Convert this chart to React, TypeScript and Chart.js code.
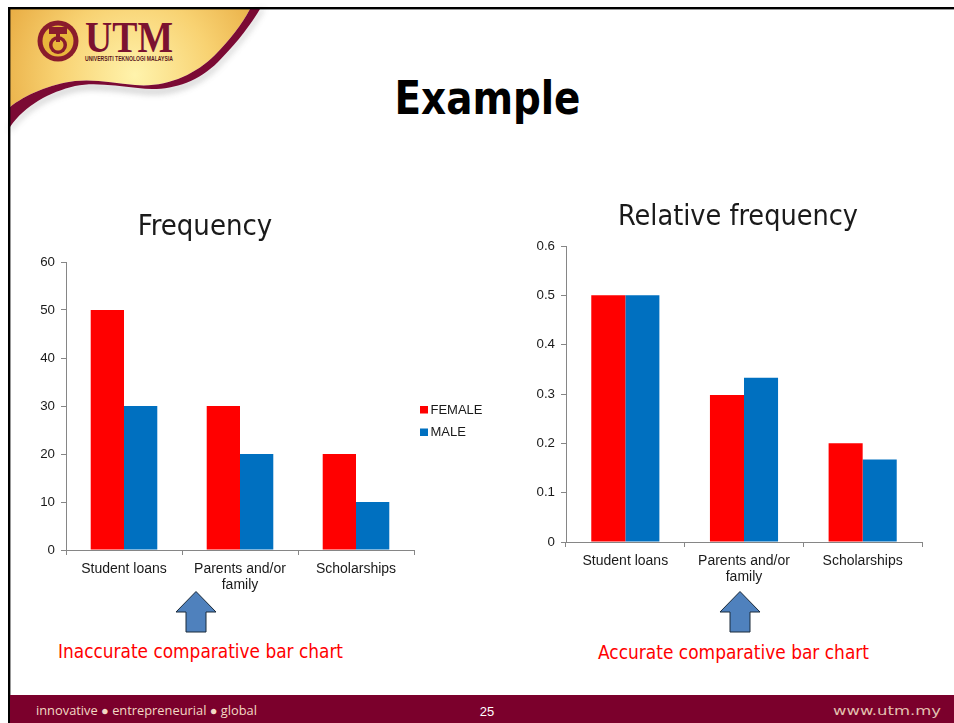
import React, { useEffect, useRef } from "react";
import { Chart, registerables } from "chart.js";

Chart.register(...registerables);

const categories = [["Student loans"], ["Parents and/or", "family"], ["Scholarships"]];
const seriesNames = ["FEMALE", "MALE"];
const freqFemale = [50, 30, 20];
const freqMale = [30, 20, 10];
const relFemale = [0.5, 0.298, 0.2];
const relMale = [0.5, 0.333, 0.167];
const RED = "#ff0000";
const BLUE = "#0070c0";
const AXIS = "#868686";
const TEXT = "#1a1a1a";
const LABEL_FONT = "'Liberation Sans', Arial, sans-serif";
const TITLE_FONT = "'DejaVu Sans Condensed', 'DejaVu Sans', sans-serif";

const seriesLegend = {
  id: "seriesLegend",
  beforeDraw(chart: any) {
    // the y scale box is narrow so the title centres as in the slide; let its labels draw past it
    chart.scales.y.left = 0;
  },
  afterDraw(chart: any, _args: any, o: any) {
    if (!o.show) return;
    const { ctx, chartArea } = chart;
    const midY = (chartArea.top + chartArea.bottom) / 2;
    ctx.save();
    ctx.font = `13px ${LABEL_FONT}`;
    ctx.textBaseline = "middle";
    chart.data.datasets.forEach((d: any, i: number) => {
      const y = midY + 3.5 + i * 22.5;
      ctx.fillStyle = d.backgroundColor;
      ctx.fillRect(chartArea.right + 6, y - 3.5, 8, 7.5);
      ctx.fillStyle = TEXT;
      ctx.fillText(d.label, chartArea.right + 16.5, y + 0.5);
    });
    ctx.restore();
  },
};

function makeConfig(opts: any) {
  return {
    type: "bar",
    plugins: [seriesLegend],
    data: {
      labels: categories,
      datasets: [
        { label: seriesNames[0], data: opts.a, backgroundColor: RED, borderWidth: 0 },
        { label: seriesNames[1], data: opts.b, backgroundColor: BLUE, borderWidth: 0 },
      ],
    },
    options: {
      responsive: false,
      animation: false,
      events: [],
      layout: { padding: opts.padding },
      datasets: { bar: { categoryPercentage: 0.574, barPercentage: 1 } },
      plugins: {
        tooltip: { enabled: false },
        legend: { display: false },
        seriesLegend: { show: opts.legend },
        title: {
          display: true,
          text: opts.title,
          color: TEXT,
          font: { family: TITLE_FONT, size: opts.titleSize, weight: "normal", lineHeight: 1 },
          padding: opts.titlePadding,
        },
      },
      scales: {
        x: {
          afterFit: (s: any) => { s.height = opts.xHeight; },
          border: { color: AXIS, display: true },
          grid: { display: true, drawOnChartArea: false, drawTicks: true, tickLength: 5, color: AXIS, offset: true },
          ticks: { color: TEXT, maxRotation: 0, minRotation: 0, autoSkip: false, padding: 6, font: { family: LABEL_FONT, size: 14, lineHeight: 1.15 } },
        },
        y: {
          min: 0,
          max: opts.max,
          afterFit: (s: any) => { s.width = opts.yWidth; },
          border: { color: AXIS, display: true },
          grid: { display: true, drawOnChartArea: false, drawTicks: true, tickLength: 5, color: AXIS },
          ticks: { color: TEXT, stepSize: opts.step, padding: 6, font: { family: LABEL_FONT, size: 13.3 } },
        },
      },
    },
  } as any;
}

function BarChart({ style, width, height, ...opts }: any) {
  const ref = useRef<HTMLCanvasElement>(null);
  useEffect(() => {
    const chart = new Chart(ref.current!, makeConfig(opts));
    return () => chart.destroy();
  }, []);
  return <canvas ref={ref} width={width} height={height} style={{ position: "absolute", display: "block", ...style }} />;
}

function Arrow({ cx }: { cx: number }) {
  const pts = [[cx, 591.5], [cx + 20, 612], [cx + 10, 612], [cx + 10, 632], [cx - 10, 632], [cx - 10, 612], [cx - 20, 612]]
    .map((p) => p.join(",")).join(" ");
  return <polygon points={pts} fill="#4f81bd" stroke="#1b2a3a" strokeWidth={1} />;
}

function Decor() {
  return (
    <svg width={954} height={723} style={{ position: "absolute", left: 0, top: 0 }}>
      <defs>
        <radialGradient id="gold" gradientUnits="userSpaceOnUse" cx={135} cy={75} r={140}>
          <stop offset="0" stopColor="#fff3ac" />
          <stop offset="0.55" stopColor="#f8d272" />
          <stop offset="1" stopColor="#e9ae45" />
        </radialGradient>
        <filter id="soft" x="-10%" y="-10%" width="120%" height="130%"><feGaussianBlur stdDeviation="3" /></filter>
      </defs>
      <path d="M264 9 C252 30 237 48 220 65 C197 90 165 97 138 93 C115 91 95 87 75 91 C50 97 25 110 10 132 L10 127 C25 105 50 92 75 86 C95 82 115 86 138 88 C165 92 195 85 218 62 C235 45 250 26 260 9 Z" fill="#888" opacity="0.45" filter="url(#soft)" />
      <path d="M10 9 H250 C242 24 230 40 215 55 C195 75 165 88 135 85 C115 83 95 79 75 81 C50 84 25 95 10 107 Z" fill="url(#gold)" />
      <path d="M250 9 H260 C250 26 235 45 218 62 C195 85 165 92 138 88 C115 86 95 82 75 86 C50 92 25 105 10 127 V107 C25 95 50 84 75 81 C95 79 115 83 135 85 C165 88 195 75 215 55 C230 40 242 24 250 9 Z" fill="#7b0a34" />
      <rect x={8} y={7} width={946} height={2.4} fill="#000" />
      <rect x={8} y={7} width={2.4} height={716} fill="#000" />
      <rect x={10} y={695} width={944} height={28} fill="#7b002c" />

      <circle cx={58} cy={41} r={20.5} fill="#8a1c2c" />
      <circle cx={58} cy={41} r={15.5} fill="#e9b63c" />
      <circle cx={58} cy={45} r={9} fill="#8a1c2c" />
      <circle cx={58} cy={45} r={5.5} fill="#e9b63c" />
      <rect x={49} y={27} width={18} height={7} fill="#8a1c2c" />
      <rect x={56} y={34} width={4} height={8} fill="#8a1c2c" />
      <text x={85} y={52} fontFamily="'Liberation Serif', serif" fontWeight="bold" fontSize={45} fill="#7b1230" textLength={88} lengthAdjust="spacingAndGlyphs">UTM</text>
      <text x={85} y={60.5} fontFamily={LABEL_FONT} fontWeight="bold" fontSize={6.5} fill="#5a1a20" textLength={88} lengthAdjust="spacingAndGlyphs">UNIVERSITI TEKNOLOGI MALAYSIA</text>

      <text x={487.5} y={114} textAnchor="middle" fontFamily={TITLE_FONT} fontWeight="bold" fontSize={46} fill="#000" textLength={186} lengthAdjust="spacingAndGlyphs">Example</text>

      <Arrow cx={196} />
      <Arrow cx={740} />
      <text x={58} y={658} fontFamily={TITLE_FONT} fontSize={19.5} fill="#ff0000" textLength={285} lengthAdjust="spacingAndGlyphs">Inaccurate comparative bar chart</text>
      <text x={598} y={659} fontFamily={TITLE_FONT} fontSize={19.5} fill="#ff0000" textLength={271} lengthAdjust="spacingAndGlyphs">Accurate comparative bar chart</text>

      <text x={36} y={715} fontFamily="'Open Sans', sans-serif" fontSize={12.5} fill="#f3d9c4" textLength={221} lengthAdjust="spacingAndGlyphs">innovative ● entrepreneurial ● global</text>
      <text x={487} y={716} textAnchor="middle" fontFamily={LABEL_FONT} fontSize={13} fill="#ffffff">25</text>
      <text x={833} y={715} fontFamily="'DejaVu Sans', sans-serif" fontSize={13} fill="#e3c0b0" textLength={108} lengthAdjust="spacingAndGlyphs">www.utm.my</text>
    </svg>
  );
}

export default function App() {
  useEffect(() => {
    document.body.style.margin = "0";
    document.body.style.overflow = "hidden";
  }, []);
  return (
    <div style={{ position: "relative", width: 954, height: 723, overflow: "hidden", background: "#fff" }}>
      <Decor />
      <BarChart
        style={{ left: -4, top: 205 }}
        width={494}
        height={430}
        title="Frequency"
        titleSize={29}
        titlePadding={{ top: 8, bottom: 20 }}
        a={freqFemale}
        b={freqMale}
        max={60}
        step={10}
        legend={true}
        xHeight={60}
        yWidth={70}
        padding={{ left: 0, right: 76, top: 0, bottom: 25 }}
      />
      <BarChart
        style={{ left: 530, top: 195 }}
        width={400}
        height={420}
        title="Relative frequency"
        titleSize={28.5}
        titlePadding={{ top: 8, bottom: 14.5 }}
        a={relFemale}
        b={relMale}
        max={0.6}
        step={0.1}
        legend={false}
        xHeight={60}
        yWidth={12}
        padding={{ left: 24, right: 8, top: 0, bottom: 13 }}
      />
    </div>
  );
}
